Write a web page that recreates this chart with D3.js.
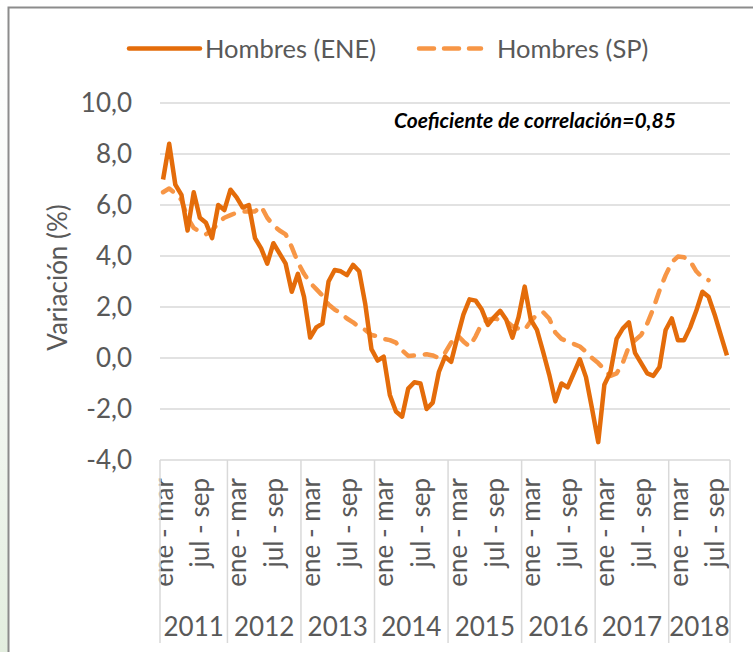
<!DOCTYPE html>
<html lang="es">
<head>
<meta charset="utf-8">
<title>Hombres ENE vs SP</title>
<script src="https://d3js.org/d3.v7.min.js"></script>
<style>
  body { margin: 0; background: #fff; }
  text { font-family: Lato, "Open Sans", sans-serif; }
</style>
</head>
<body>
<script>
"use strict";

// categories: rolling quarters, grouped by year
const years = ["2011", "2012", "2013", "2014", "2015", "2016", "2017", "2018"];
const trimestres = ["dic - feb", "ene - mar", "feb - abr", "mar - may", "abr - jun", "may - jul",
                    "jun - ago", "jul - sep", "ago - oct", "sep - nov", "oct - dic", "nov - ene"];
const firstQ = [1, 0, 0, 0, 0, 0, 0, 0];
const lastQ  = [11, 11, 11, 11, 11, 11, 11, 9];
const shownLabels = ["ene - mar", "jul - sep"];

// Hombres (ENE), variación %
const ene = [
  7.0, 8.4, 6.8, 6.4, 5.0, 6.5, 5.5, 5.3, 4.7, 6.0, 5.8,
  6.6, 6.3, 5.9, 6.0, 4.7, 4.3, 3.7, 4.5, 4.1, 3.7, 2.6, 3.3,
  2.4, 0.8, 1.2, 1.35, 3.0, 3.45, 3.4, 3.25, 3.65, 3.4, 2.1, 0.35,
  -0.1, 0.05, -1.45, -2.1, -2.3, -1.2, -0.95, -1.0, -2.0, -1.75, -0.55, 0.05,
  -0.15, 0.8, 1.7, 2.3, 2.25, 1.9, 1.3, 1.6, 1.85, 1.5, 0.8, 1.6,
  2.8, 1.5, 1.1, 0.25, -0.65, -1.7, -1.0, -1.15, -0.6, -0.05, -0.75, -2.0,
  -3.3, -1.05, -0.55, 0.75, 1.15, 1.4, 0.2, -0.2, -0.6, -0.7, -0.35, 1.1,
  1.55, 0.7, 0.7, 1.2, 1.85, 2.6, 2.4, 1.7, 0.9, 0.1
];

// Hombres (SP), variación %
const sp = [
  6.5, 6.65, 6.45, 6.2, 5.5, 5.1, 4.95, 4.85, 5.0, 5.3, 5.5,
  5.6, 5.7, 5.75, 5.75, 5.75, 5.95, 5.5, 5.2, 5.0, 4.85, 4.35, 3.75,
  3.3, 2.95, 2.7, 2.45, 2.1, 1.9, 1.75, 1.55, 1.4, 1.2, 1.1, 0.9,
  0.85, 0.75, 0.7, 0.6, 0.3, 0.08, 0.1, 0.12, 0.15, 0.1, 0.0, 0.2,
  0.6, 0.9, 0.65, 0.45, 0.85, 1.35, 1.5, 1.55, 1.5, 1.45, 1.25, 1.15,
  1.1, 1.45, 1.7, 1.8, 1.55, 1.0, 0.75, 0.65, 0.55, 0.45, 0.25, 0.0,
  -0.2, -0.45, -0.7, -0.6, -0.2, 0.45, 0.7, 0.9, 1.35, 1.95, 2.65, 3.25,
  3.75, 3.98, 3.95, 3.8, 3.4, 3.15, 3.05
];

const yTicks = [-4, -2, 0, 2, 4, 6, 8, 10];
const fmt = d => d3.format(".1f")(d).replace(".", ",").replace("−", "-");

// build the category list
let cats = [];
years.forEach(function(yr, k) {
  for (let q = firstQ[k]; q <= lastQ[k]; q++) {
    cats.push({ year: yr, trim: trimestres[q], id: yr + "|" + trimestres[q] });
  }
});

const W = 753, H = 652;
const pLeft = 160, pRight = 730, pTop = 103, pBottom = 460;

let svg = d3.select("body").append("svg")
  .attr("width", W).attr("height", H);

// outer frame + faint green edge
let grad = svg.append("defs").append("linearGradient")
  .attr("id", "edge").attr("x1", 0).attr("y1", 0).attr("x2", 0).attr("y2", 1);
grad.append("stop").attr("offset", "0%").attr("stop-color", "#ffffff");
grad.append("stop").attr("offset", "60%").attr("stop-color", "#f3f7f2");
grad.append("stop").attr("offset", "100%").attr("stop-color", "#e3eedf");
svg.append("rect").attr("x", 0).attr("y", 0).attr("width", 8).attr("height", H)
  .attr("fill", "url(#edge)");
svg.append("path")
  .attr("d", "M8.5," + H + "V7.5H" + W)
  .attr("fill", "none").attr("stroke", "#8c8c8c").attr("stroke-width", 2);

let x = d3.scalePoint()
  .domain(cats.map(d => d.id))
  .range([pLeft, pRight])
  .padding(0.5);
let step = x.step();

let y = d3.scaleLinear().domain([-4, 10]).range([pBottom, pTop]);

// grid lines
svg.append("g")
  .selectAll("line")
  .data(yTicks)
  .enter().append("line")
  .attr("x1", pLeft).attr("x2", pRight)
  .attr("y1", d => y(d)).attr("y2", d => y(d))
  .attr("stroke", "#d9d9d9").attr("stroke-width", 1.5);

// y axis labels
let yAxis = svg.append("g")
  .attr("transform", "translate(" + (pLeft - 28) + ",0)")
  .call(d3.axisLeft(y).tickValues(yTicks).tickFormat(fmt).tickSize(0).tickPadding(0));
yAxis.select(".domain").remove();
yAxis.selectAll("text")
  .attr("fill", "#595959")
  .style("font-size", "26px")
  .style("font-family", "Lato, sans-serif");

svg.append("text")
  .attr("transform", "translate(67," + ((pTop + pBottom) / 2 - 4) + ") rotate(-90)")
  .attr("text-anchor", "middle")
  .attr("fill", "#595959")
  .style("font-size", "26px")
  .text("Variación (%)");

// x axis: quarter labels
let xAxis = svg.append("g")
  .attr("transform", "translate(0," + pBottom + ")")
  .call(d3.axisBottom(x).tickSize(0)
    .tickValues(cats.filter(d => shownLabels.indexOf(d.trim) >= 0).map(d => d.id))
    .tickFormat(id => id.split("|")[1]));
xAxis.select(".domain").remove();
xAxis.selectAll("text")
  .attr("transform", "rotate(-90)")
  .attr("text-anchor", "end")
  .attr("x", -18)
  .attr("y", 0)
  .attr("dy", "0.35em")
  .attr("fill", "#595959")
  .style("font-size", "26px")
  .style("font-family", "Lato, sans-serif");

// year groups
let yearSpans = years.map(function(yr) {
  let ids = cats.filter(d => d.year === yr).map(d => d.id);
  return { year: yr, x0: x(ids[0]) - step / 2, x1: x(ids[ids.length - 1]) + step / 2 };
});

svg.append("g")
  .selectAll("line")
  .data([yearSpans[0].x0].concat(yearSpans.map(d => d.x1)))
  .enter().append("line")
  .attr("x1", d => d).attr("x2", d => d)
  .attr("y1", pBottom).attr("y2", 643)
  .attr("stroke", "#d9d9d9").attr("stroke-width", 1.5);

svg.append("g")
  .selectAll("text")
  .data(yearSpans)
  .enter().append("text")
  .attr("x", d => (d.x0 + d.x1) / 2)
  .attr("y", 636)
  .attr("text-anchor", "middle")
  .attr("fill", "#595959")
  .style("font-size", "26px")
  .text(d => d.year);

// series
let line = d3.line()
  .x((d, i) => x(cats[i].id))
  .y(d => y(d));

svg.append("path")
  .datum(sp)
  .attr("d", line)
  .attr("fill", "none")
  .attr("stroke", "#F79646")
  .attr("stroke-width", 4.5)
  .attr("stroke-dasharray", "12,11")
  .attr("stroke-linecap", "round")
  .attr("stroke-linejoin", "round");

svg.append("path")
  .datum(ene)
  .attr("d", line)
  .attr("fill", "none")
  .attr("stroke", "#E46C0A")
  .attr("stroke-width", 4.5)
  .attr("stroke-linejoin", "round");

// legend
let legend = svg.append("g");
legend.append("line")
  .attr("x1", 129).attr("x2", 200).attr("y1", 48.5).attr("y2", 48.5)
  .attr("stroke", "#E46C0A").attr("stroke-width", 4.5).attr("stroke-linecap", "round");
legend.append("text")
  .attr("x", 205).attr("y", 57.5)
  .attr("fill", "#595959").style("font-size", "25.5px")
  .text("Hombres (ENE)");
legend.append("line")
  .attr("x1", 419).attr("x2", 481).attr("y1", 48.5).attr("y2", 48.5)
  .attr("stroke", "#F79646").attr("stroke-width", 4.5)
  .attr("stroke-dasharray", "15,10").attr("stroke-linecap", "round");
legend.append("text")
  .attr("x", 497).attr("y", 57.5)
  .attr("fill", "#595959").style("font-size", "25.5px")
  .text("Hombres (SP)");

// annotation
svg.append("text")
  .attr("x", 394).attr("y", 128)
  .attr("fill", "#000")
  .style("font-size", "21px")
  .style("font-weight", "bold")
  .style("font-style", "italic")
  .text("Coeficiente de correlación=0,85");
</script>
</body>
</html>
